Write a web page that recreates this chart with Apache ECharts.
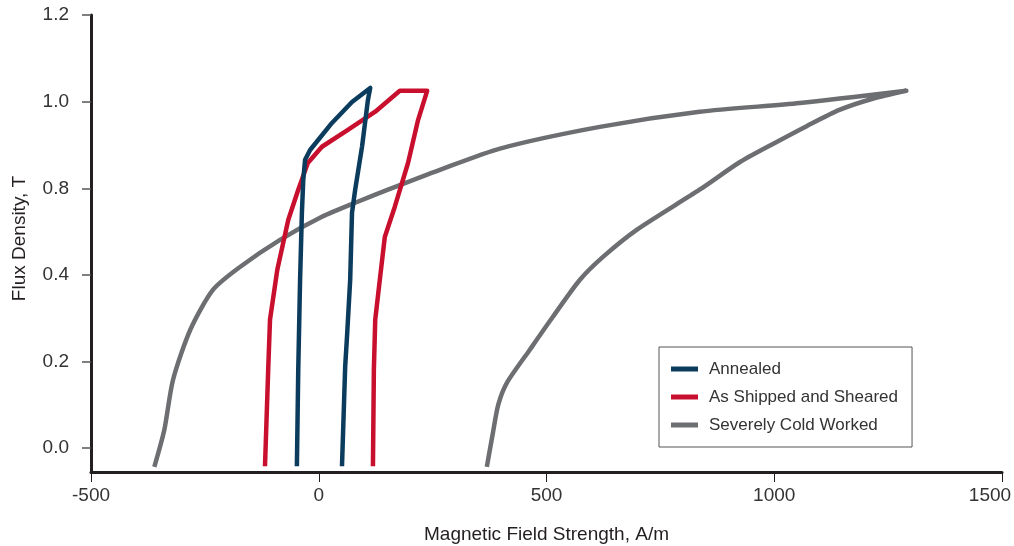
<!DOCTYPE html>
<html>
<head>
<meta charset="utf-8">
<script src="https://cdn.jsdelivr.net/npm/echarts@6/dist/echarts.min.js"></script>
<style>
  html, body { margin: 0; padding: 0; background: #fff; }
  #chart { width: 1014px; height: 546px; }
</style>
</head>
<body>
<div id="chart"></div>
<script>
// tick marks on the flux axis sit evenly, but the printed labels skip 0.6
var yTickValues = [0, 0.24, 0.48, 0.72, 0.96, 1.2];
var yTickLabels = ['0.0', '0.2', '0.4', '0.8', '1.0', '1.2'];

var seriesNames = ['Annealed', 'As Shipped and Sheared', 'Severely Cold Worked'];

// Annealed loop (H in A/m, B in T)
var annealedH = [-48, -45, -41, -37, -34, -30, -19, 29, 73, 113, 108, 95, 80, 73, 69, 62, 58, 51];
var annealedB = [-0.05, 0.217, 0.466, 0.652, 0.743, 0.799, 0.826, 0.901, 0.959, 0.998, 0.965, 0.835, 0.716, 0.652, 0.466, 0.308, 0.225, -0.05];

// As shipped and sheared loop
var shippedH = [-118, -111, -107, -91, -67, -45, -24, 7, 64, 124, 178, 238, 218, 196, 167, 145, 134, 124, 121, 119];
var shippedB = [-0.05, 0.217, 0.356, 0.494, 0.632, 0.716, 0.79, 0.835, 0.882, 0.932, 0.99, 0.99, 0.909, 0.79, 0.669, 0.585, 0.466, 0.356, 0.217, -0.05];

// Severely cold worked loop
var coldH = [-361, -339, -320, -282, -232, -173, -85, 7, 80, 152, 266, 398, 617, 836, 1056, 1290,
             1216, 1143, 1071, 996, 924, 836, 698, 624, 573, 514, 463, 413, 394, 382, 369];
var coldB = [-0.052, 0.051, 0.189, 0.328, 0.439, 0.502, 0.577, 0.641, 0.68, 0.716, 0.771, 0.83, 0.89, 0.932, 0.956, 0.99,
             0.968, 0.937, 0.892, 0.842, 0.792, 0.716, 0.605, 0.53, 0.466, 0.364, 0.272, 0.181, 0.12, 0.04, -0.052];

var xMin = -500, xMax = 1500, xStep = 500;

var colors = {
    annealed: '#0b3c5d',
    shipped: '#c8102e',
    cold: '#6d6e71'
};

var fontFam = '"Liberation Sans", Arial, sans-serif';

function pairs(xs, ys) {
    var out = [];
    for (var i = 0; i < xs.length; i++) {
        out.push([xs[i], ys[i]]);
    }
    return out;
}

var myChart = echarts.init(document.getElementById('chart'), null, {renderer: 'canvas'});

var option = {
    animation: false,
    backgroundColor: '#fff',
    textStyle: { fontFamily: fontFam },
    grid: {
        left: 91,
        right: 12,
        top: 15,
        bottom: 74,
        outerBoundsMode: 'none'
    },
    legend: {
        orient: 'vertical',
        left: 659,
        top: 347,
        data: seriesNames,
        icon: 'rect',
        itemWidth: 27,
        itemHeight: 5,
        itemGap: 8,
        padding: [12, 14, 12, 12],
        borderColor: '#555',
        borderWidth: 1,
        textStyle: {
            fontFamily: fontFam,
            fontSize: 17,
            lineHeight: 20,
            color: '#333',
            padding: [0, 0, 0, 6]
        }
    },
    xAxis: {
        type: 'value',
        min: xMin,
        max: xMax,
        interval: xStep,
        name: 'Magnetic Field Strength, A/m',
        nameLocation: 'middle',
        nameGap: 53,
        nameTextStyle: { fontFamily: fontFam, fontSize: 19, color: '#231f20' },
        axisLine: { onZero: false, lineStyle: { color: '#231f20', width: 3 } },
        axisTick: { show: true, length: 10, lineStyle: { color: '#231f20', width: 1 } },
        axisLabel: {
            margin: 14,
            fontFamily: fontFam,
            fontSize: 19,
            color: '#333',
            formatter: function (v) {
                // last label sits a little left of its tick so it stays on the page
                return v === xMax ? '{edge|' + v + '}' : String(v);
            },
            rich: {
                edge: {
                    fontFamily: fontFam,
                    fontSize: 19,
                    color: '#333',
                    padding: [0, 24, 0, 0]
                }
            }
        },
        splitLine: { show: false }
    },
    yAxis: {
        type: 'value',
        min: -0.066,
        max: 1.2,
        name: 'Flux Density, T',
        nameLocation: 'middle',
        nameGap: 62,
        nameTextStyle: { fontFamily: fontFam, fontSize: 19, color: '#231f20', padding: [0, 0, 0, 10] },
        axisLine: { show: true, onZero: false, lineStyle: { color: '#231f20', width: 3 } },
        axisTick: {
            show: true,
            length: 9,
            customValues: yTickValues,
            lineStyle: { color: '#555', width: 1.5 }
        },
        axisLabel: {
            margin: 22,
            fontFamily: fontFam,
            fontSize: 19,
            color: '#333',
            customValues: yTickValues,
            formatter: function (v) {
                var best = 0;
                for (var i = 0; i < yTickValues.length; i++) {
                    if (Math.abs(yTickValues[i] - v) < Math.abs(yTickValues[best] - v)) best = i;
                }
                return yTickLabels[best];
            }
        },
        splitLine: { show: false }
    },
    series: [
        {
            name: seriesNames[2],
            type: 'line',
            data: pairs(coldH, coldB),
            showSymbol: false,
            symbol: 'none',
            smooth: 0.25,
            color: colors.cold,
            lineStyle: { color: colors.cold, width: 4.5, join: 'round' },
            z: 2
        },
        {
            name: seriesNames[1],
            type: 'line',
            data: pairs(shippedH, shippedB),
            showSymbol: false,
            symbol: 'none',
            smooth: false,
            color: colors.shipped,
            lineStyle: { color: colors.shipped, width: 4.5, join: 'round' },
            z: 3
        },
        {
            name: seriesNames[0],
            type: 'line',
            data: pairs(annealedH, annealedB),
            showSymbol: false,
            symbol: 'none',
            smooth: false,
            color: colors.annealed,
            lineStyle: { color: colors.annealed, width: 4.5, join: 'round' },
            z: 4
        }
    ]
};

myChart.setOption(option);
</script>
</body>
</html>
